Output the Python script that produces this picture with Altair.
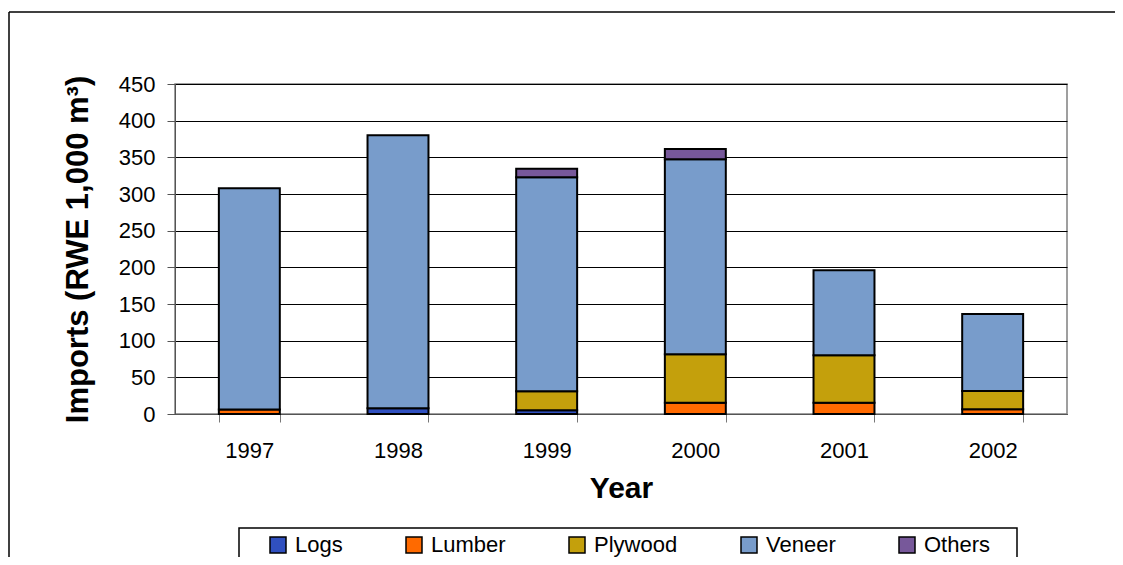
import altair as alt
import pandas as pd

years = ["1997", "1998", "1999", "2000", "2001", "2002"]
products = ["Logs", "Lumber", "Plywood", "Veneer", "Others"]
logs = [0, 8, 5, 0, 0, 0]
lumber = [6, 0, 0, 15.5, 15.5, 6.5]
plywood = [0, 0, 26, 66, 64.5, 25]
veneer = [302, 372, 292, 266, 116, 105]
others = [0, 0, 11.5, 14, 0, 0]
colors = ["#3050C0", "#FF6A00", "#C4A00C", "#789CCB", "#77589A"]
y_ticks = [0, 50, 100, 150, 200, 250, 300, 350, 400, 450]

series = [logs, lumber, plywood, veneer, others]
rows = []
for i, yr in enumerate(years):
    for j, p in enumerate(products):
        v = series[j][i]
        if v > 0:
            rows.append({"Year": yr, "Product": p, "Value": v, "order": j})
df = pd.DataFrame(rows)

FONT = "Liberation Sans"

bars = alt.Chart(df).mark_bar(stroke="black", strokeWidth=2).encode(
    x=alt.X(
        "Year:N",
        sort=years,
        scale=alt.Scale(paddingInner=0.59, paddingOuter=0.295),
        axis=alt.Axis(
            title="Year", labelAngle=0, tickBand="extent", tickSize=8,
            labelFontSize=22, labelPadding=18, titleFontSize=30,
            titleFontWeight="bold", titlePadding=12, domainColor="#555",
            tickColor="#777", grid=False, labelColor="black",
        ),
    ),
    y=alt.Y(
        "Value:Q",
        stack="zero",
        scale=alt.Scale(domain=[0, 450]),
        axis=alt.Axis(
            title="Imports (RWE 1,000 m³)", values=y_ticks, tickSize=8,
            labelFontSize=22, labelPadding=12, titleFontSize=31,
            titleFontWeight="bold", titlePadding=24, grid=True,
            gridColor="black", gridWidth=1, domainColor="#555",
            tickColor="#555", labelColor="black",
        ),
    ),
    color=alt.Color(
        "Product:N",
        scale=alt.Scale(domain=products, range=colors),
        legend=alt.Legend(
            title=None, orient="none", legendX=92, legendY=450,
            direction="horizontal", columns=5, columnPadding=60,
            symbolType="square", symbolSize=256, symbolStrokeColor="black",
            symbolStrokeWidth=1.5, labelFontSize=22, labelOffset=6,
            padding=0, labelColor="black",
        ),
    ),
    order=alt.Order("order:Q"),
)

one = pd.DataFrame({"a": [0]})
frame_top = alt.Chart(one).mark_rule(color="black", strokeWidth=1.5).encode(
    x=alt.value(-166), x2=alt.value(948), y=alt.value(-72)
)
frame_left = alt.Chart(one).mark_rule(color="black", strokeWidth=1.5).encode(
    x=alt.value(-166), y=alt.value(-72), y2=alt.value(700)
)
legbox = alt.Chart(one).mark_rect(fill="transparent", stroke="black", strokeWidth=1.5).encode(
    x=alt.value(64), x2=alt.value(842), y=alt.value(444), y2=alt.value(700)
)

chart = alt.layer(bars, frame_top, frame_left, legbox).properties(
    width=892, height=330,
    autosize=alt.AutoSizeParams(type="none"),
    padding={"left": 167, "top": 76, "right": 48, "bottom": 143},
).configure(font=FONT).configure_view(stroke="#808080", strokeWidth=1.5)

chart.save("out.html", embed_options={"renderer": "svg", "actions": False})
